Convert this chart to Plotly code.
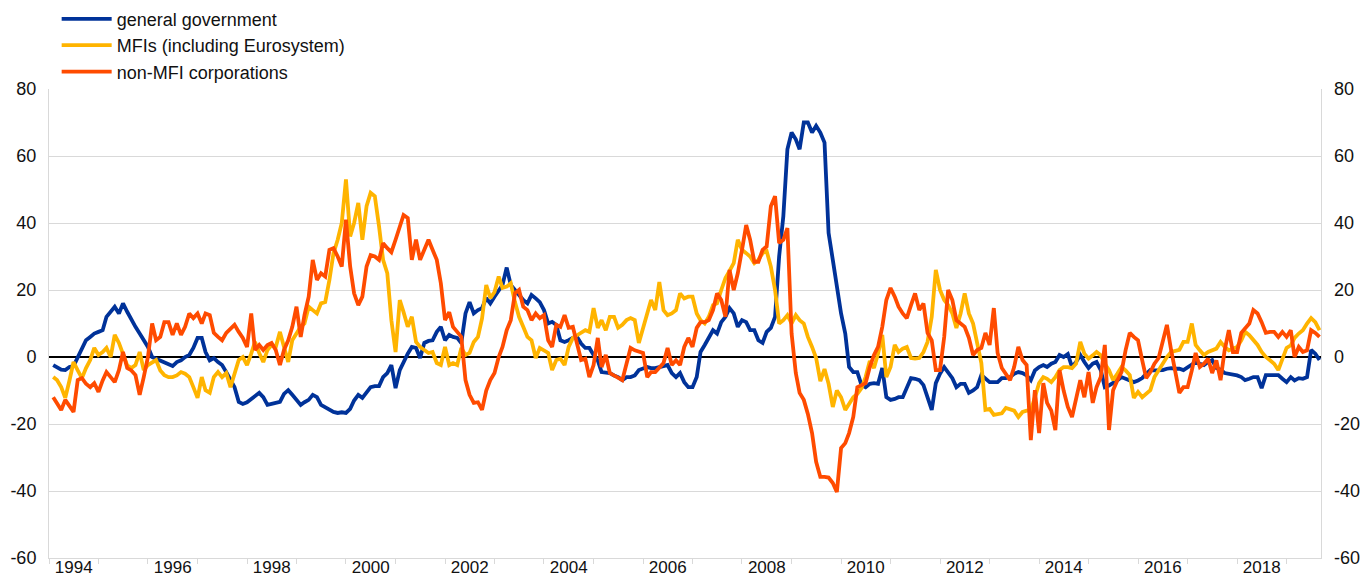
import pandas as pd
import plotly.graph_objects as go

# Monthly observations, Feb 1994 - Sep 2019 (percentages)
months = pd.date_range("1994-02-01", periods=308, freq="MS")

general_government = [
    -2.4, -3, -3.8, -3.9, -3, -2.7, 0, 2.5, 5, 6,
    7, 7.5, 8, 12, 13.5, 15, 13, 16, 13.5, 11,
    9, 7, 5, 3, 0, -0.5, -1, -1.5, -2, -2.7,
    -1.5, -1, 0, 0.6, 2.7, 5.7, 5.7, 1.5, -1, -0.3,
    -1.5, -2.4, -4.5, -7, -9, -13.4, -14, -13.5, -12.5, -11.5,
    -10.7, -12, -14.3, -14, -13.8, -13.4, -11, -9.9, -11.3, -13,
    -14.3, -13.5, -12.8, -11.3, -12, -14.3, -15, -16, -16.4, -16.7,
    -16.5, -16.7, -15.5, -13, -11.3, -12.2, -10.5, -9, -8.7, -8.7,
    -6, -4.8, -2.4, -9.3, -3.9, -1.5, 1, 3, 2.7, -0.3,
    4.2, 4.8, 5, 7.5, 9, 5, 6.6, 6, 5.7, 4.2,
    13, 16.4, 13, 14, 14.6, 17.6, 16, 18, 20, 21.5,
    26.7, 21.5, 20, 18.3, 17, 16, 18.5, 17.5, 16.4, 14,
    10, 10.5, 9.6, 5, 4.5, 5, 5.7, 6, 4, 2.7,
    2.7, 0.6, -1, -4.5, -4.6, -4.8, -5.5, -6, -6.9, -6,
    -6, -5.5, -3.9, -3.5, -3, -3.3, -3.3, -3, -2.6, -2.4,
    -4.8, -6, -4.8, -7.5, -9, -9, -6, 1.5, 3.6, 6,
    8, 7, 10.4, 12, 14.6, 13, 9, 11, 10.4, 8,
    8, 5, 4.2, 7.5, 8.7, 12, 30, 42, 62, 67,
    65, 62, 70, 70, 67, 69, 67, 64, 37, 29,
    21, 13, 7, -3, -4.5, -4.5, -8.4, -9, -8, -7.8,
    -8, -3.3, -12, -12.8, -12.5, -12, -12, -9, -6.3, -6.5,
    -6.9, -8.4, -12, -15.8, -7.8, -5, -3, -4.5, -6.3, -9,
    -8, -8, -10.7, -10, -9, -5.4, -6.5, -7.5, -7.5, -7.5,
    -6.3, -6.3, -6, -5, -4.5, -4.8, -5.5, -6.9, -4, -3,
    -2.4, -3, -2, -1.5, 0.6, 0, 0.9, -3, -1.5, 0.6,
    -1.5, -3.3, -2, -1.5, -3.9, -9, -8.5, -7.8, -7, -6,
    -6.5, -7, -7.5, -7, -6.3, -5, -3.9, -4, -3.9, -3.9,
    -3.5, -3.3, -3.5, -3.5, -3.9, -3, -2.4, -1.5, -2, -2.4,
    -1.5, -0.9, -3.3, -3.8, -4.8, -5, -5.4, -5.5, -6, -6.9,
    -6.5, -6, -6, -9.3, -5.4, -5.4, -5.4, -5.4, -6.5, -7.5,
    -6, -7, -6.3, -6.5, -6, 2.1, 1, -0.9,
]

mfis = [
    -6, -6.9, -9, -12.2, -7, -1.5, -4, -6.3, -3.3, -0.9,
    2.7, 0.6, 1.5, 2.7, 0, 6.6, 4.2, 1, -2.5, -3.3,
    -2.4, 1.5, -3.9, -2.4, -1.5, -0.9, -4, -5.4, -6, -6,
    -5.5, -4.5, -5, -6, -9, -12.2, -6, -9.9, -10.7, -6,
    -4.5, -6, -4.8, -9, -5, -0.9, 0, -2.4, 1, 4.5,
    1.2, -1.5, 2.1, 3.6, 3, 7.5, 3, -1.5, 5, 7,
    9, 10, 15, 14, 13, 16, 16.4, 23, 31, 35,
    40, 53, 36, 40, 46, 35, 45, 49, 48, 39,
    29, 25, 11, 1.5, 17, 13.4, 9, 12, 4.5, 3,
    2, 1.2, 1.5, -1.8, -2.4, 3, -2.4, -1.8, -2.4, 2.7,
    0.6, 1.2, 4.5, 6, 11.5, 21.5, 17.6, 19.4, 24, 20.6,
    21, 22, 16.4, 12, 9, 6, 5, -0.3, 2.7, 2,
    1.2, -3.9, -0.9, -0.5, -2.4, 3, 5.7, 6.5, 7.2, 8,
    7.5, 14.6, 8.7, 11, 8, 12, 12, 8.7, 9.6, 11,
    11.6, 11, 4.2, 8.7, 13, 17, 14, 22.4, 14, 12.5,
    13, 14, 19, 17.5, 18, 18, 13, 11, 10, 12,
    15.5, 16, 20, 23.6, 25.7, 28, 35, 32, 31, 30,
    28, 29, 31, 31.6, 27, 20, 10, 11, 12.5, 10,
    12.5, 11, 10, 6, 3, -0.3, -7.2, -3.6, -8, -14.9,
    -10, -12, -15.8, -14, -12, -11, -9.3, -6, -1.2, -3.3,
    1, 6.6, -6, -3, 3.6, 1.5, 2.5, 3, -0.3, -0.5,
    -0.3, 1.5, 4.5, 12, 26, 20, 17, 15.5, 13, 8.7,
    13, 19, 13, 10, 4.2, -1.8, -15.8, -15.5, -17.3, -17,
    -16.8, -15.2, -15.5, -16, -17.9, -16.4, -16, -16, -12, -7.8,
    -6, -6.5, -7.5, -6, -3.9, -3, -3, -3.3, -2, 4.5,
    1, -0.5, 0.5, 1.5, 0.5, -2, -3.9, -6.9, -5, -3,
    -4, -5.4, -12.2, -10.4, -12, -11, -9.9, -6, -3.9, -1.8,
    0, 1.5, 1.8, 2.1, 4.5, 4.5, 10, 3.6, 2, 0.6,
    1.5, 2, 2.5, 4.5, 3, 2, 2.5, 3, 5, 7.5,
    6.5, 5, 3.6, 1.5, 0, -1, -2, -3.9, -0.5, 2.7,
    3.5, 5.7, 7, 8, 10, 11.6, 10.4, 8,
]

non_mfi_corporations = [
    -12, -14, -15.8, -12.8, -14.5, -16.4, -6.9, -6.3, -8, -9,
    -7.8, -10.4, -7, -4.5, -6, -7.5, -3.9, 1.5, -3.3, -4,
    -5.4, -11.3, -6, 0, 10, 5, 6, 10.4, 10.4, 6.6,
    10, 6.6, 9, 13, 11.6, 13, 10, 13, 12.5, 7.2,
    6, 5, 7.2, 8.5, 9.6, 7.5, 5.7, 3, 13, 2.1,
    3.6, 2.1, 3.6, 4.2, 2.1, -2.4, 2.1, 5, 9, 15,
    6, 12.5, 18, 29, 23, 25, 24, 32, 32.5, 30,
    27, 41, 27, 19, 15.5, 18, 27, 30.4, 30, 29,
    34, 32.5, 31.3, 35, 39, 42.4, 41.5, 29, 35, 29,
    32, 35, 32, 29, 22, 11, 13.4, 9, 7.5, 6,
    -6.9, -11.3, -13.7, -13.5, -15.8, -10, -6.9, -4.8, 0, 3,
    8, 11, 19, 20, 15, 14, 11, 13, 11.6, 12.5,
    5, 3, 9.6, 9, 12.5, 8.7, 9, 4, -0.9, -0.5,
    -6, -2.4, 5.7, -3, 0.6, -4.8, -5.5, -6, -6.9, -2,
    2.7, 2, 1.5, 1.2, -6, -4.5, -4.5, -3, -1.8, 2.7,
    -2.4, -1, -2.4, 3, 5.7, 3, 8.7, 10.4, 10.4, 11,
    14, 19, 17, 12, 26, 20, 25, 32, 39.4, 35,
    28.4, 28.4, 32, 33, 45, 48, 34, 35, 38.5, 7,
    -4.8, -10.7, -12.8, -17, -22.7, -31.3, -35.8, -35.8, -36, -37.6,
    -40.3, -27.2, -25.7, -22.7, -17.9, -9, -8.5, -7.8, -3, 0.6,
    3, 9, 17, 20.6, 18, 15, 13, 11.6, 15.5, 19,
    14, 16, 7.2, 5, -3.9, -3.9, 6, 20, 17, 11,
    10, 9, 5.7, 0.6, 2.1, 2.7, 7.2, 3.6, 14.6, 1.2,
    -3.3, -5, -6.9, -3, 3, -0.9, -2.4, -24.8, -9.9, -22.7,
    -7.8, -13.7, -16, -21.8, -3.9, -10, -14.9, -17.9, -12.2, -6.9,
    -12, -4.5, -13.7, -9, -6, 3.6, -21.8, -9.9, -7, -4.5,
    2, 7.2, 6, 5, -1, -6.3, -4.5, -2, -0.3, 4.2,
    9.6, 2.1, -4, -10.7, -9, -9, -4, 1.2, -3, -2,
    -0.5, -4.8, -1, -6.9, 2, 8, 1.5, 1.5, 7.2, 8.7,
    10, 14, 13, 10.4, 7.2, 7.5, 7.5, 6, 7.5, 6,
    8, 0, 3, 1.5, 2, 8, 7.2, 6,
]

series_names = ["general government", "MFIs (including Eurosystem)", "non-MFI corporations"]
series_colors = ["#003299", "#FFB400", "#FF4B00"]
label_years = list(range(1994, 2020, 2))
boundary_years = list(range(1994, 2020))
y_ticks = [-60, -40, -20, 0, 20, 40, 60, 80]
y_tick_text = [str(v) for v in y_ticks]
x_range = ["1994-01-01", "2019-09-12"]

font_family = "Liberation Sans, Arial, sans-serif"
grid_color = "#d9d9d9"

fig = go.Figure()
for name, vals, col in zip(series_names,
                           [general_government, mfis, non_mfi_corporations],
                           series_colors):
    fig.add_trace(go.Scatter(x=months, y=vals, name=name, mode="lines",
                             line=dict(color=col, width=3.8)))

# invisible trace carrying the right-hand value axis and the year-label axis
fig.add_trace(go.Scatter(x=[months[0]], y=[0], xaxis="x2", yaxis="y2", mode="lines",
                         line=dict(width=0), showlegend=False, hoverinfo="skip"))

fig.update_layout(
    width=1362, height=581, autosize=False,
    margin=dict(l=49, r=41, t=89, b=23, autoexpand=False),
    paper_bgcolor="white", plot_bgcolor="white",
    font=dict(family=font_family, size=18, color="#111111"),
    showlegend=True,
    legend=dict(xref="container", yref="container", x=0.0416, y=0.999,
                xanchor="left", yanchor="top", bgcolor="rgba(0,0,0,0)",
                font=dict(size=18), tracegroupgap=0, itemwidth=50),
    # primary time axis: axis line and yearly tick marks
    xaxis=dict(
        type="date", range=x_range,
        showticklabels=False, ticks="", showgrid=False, zeroline=False,
        showline=True, linecolor=grid_color, linewidth=1,
        minor=dict(tickmode="array",
                   tickvals=[f"{y}-01-01" for y in boundary_years],
                   ticks="outside", ticklen=5, tickcolor=grid_color,
                   showgrid=False),
    ),
    # overlaid time axis carrying the year labels centred in each year
    xaxis2=dict(
        type="date", range=x_range, overlaying="x", anchor="free",
        position=0.0064, side="bottom",
        tickmode="array",
        tickvals=[f"{y}-07-02" for y in label_years],
        ticktext=[str(y) for y in label_years],
        ticks="", showgrid=False, zeroline=False, showline=False,
        tickfont=dict(size=17), ticklabelstandoff=0,
    ),
    yaxis=dict(
        range=[-60, 80], tickmode="array", tickvals=y_ticks, ticktext=y_tick_text,
        showgrid=True, gridcolor=grid_color, gridwidth=1,
        zeroline=True, zerolinecolor="black", zerolinewidth=1.5,
        showline=True, linecolor=grid_color, mirror=True,
        ticks="", ticklabelstandoff=8,
    ),
    yaxis2=dict(
        range=[-60, 80], tickmode="array", tickvals=y_ticks, ticktext=y_tick_text,
        overlaying="y", side="right", anchor="x", showgrid=False, zeroline=False,
        ticks="", ticklabelstandoff=12,
    ),
)

# remove the default page margin so the figure fills the window exactly
fig.write_html(
    "out.html",
    config={"displayModeBar": False},
    post_script="document.body.style.margin='0px';document.body.style.overflow='hidden';",
)
